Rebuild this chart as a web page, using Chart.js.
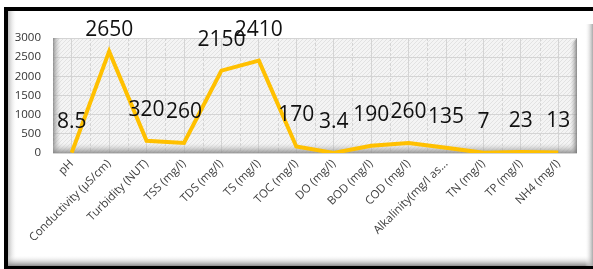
<!DOCTYPE html>
<html>
<head>
<meta charset="utf-8">
<script src="https://cdn.jsdelivr.net/npm/chart.js@4.4.0/dist/chart.umd.min.js"></script>
<style>
    html, body { margin: 0; padding: 0; background: #fff; }
    canvas { display: block; }
</style>
</head>
<body>
<canvas id="waterChart" width="593" height="269"></canvas>
<script>
const parameters = [
    "pH", "Conductivity (µS/cm)", "Turbidity (NUT)", "TSS (mg/l)", "TDS (mg/l)",
    "TS (mg/l)", "TOC (mg/l)", "DO (mg/l)", "BOD (mg/l)", "COD (mg/l)",
    "Alkalinity(mg/l as...", "TN (mg/l)", "TP (mg/l)", "NH4 (mg/l)"
];
const values = [8.5, 2650, 320, 260, 2150, 2410, 170, 3.4, 190, 260, 135, 7, 23, 13];
const yTicks = [0, 500, 1000, 1500, 2000, 2500, 3000];

// frame + hatched wall behind the grid
const backdrop = {
    id: "backdrop",
    beforeDraw(chart) {
        const ctx = chart.ctx;
        const w = chart.width, h = chart.height;
        ctx.save();
        ctx.fillStyle = "#000";
        ctx.fillRect(4, 7, w - 4, h - 7);
        ctx.fillStyle = "#fff";
        ctx.fillRect(8, 11, w - 8, 255);

        let g = ctx.createLinearGradient(8, 0, 17, 0);
        g.addColorStop(0, "#bdbdbd");
        g.addColorStop(1, "rgba(255,255,255,0)");
        ctx.fillStyle = g;
        ctx.fillRect(8, 11, 9, 255);

        g = ctx.createLinearGradient(0, 266, 0, 255);
        g.addColorStop(0, "#8c8c8c");
        g.addColorStop(1, "rgba(255,255,255,0)");
        ctx.fillStyle = g;
        ctx.fillRect(8, 255, w - 8, 11);

        g = ctx.createLinearGradient(w, 0, w - 8, 0);
        g.addColorStop(0, "#a8a8a8");
        g.addColorStop(1, "rgba(255,255,255,0)");
        ctx.fillStyle = g;
        ctx.fillRect(w - 8, 24, 8, 242);

        const a = chart.chartArea;
        ctx.fillStyle = "#f4f4f4";
        ctx.fillRect(a.left, a.top, a.right - a.left, a.bottom - a.top);
        ctx.beginPath();
        ctx.rect(a.left, a.top, a.right - a.left, a.bottom - a.top);
        ctx.clip();
        ctx.strokeStyle = "#e2e2e2";
        ctx.lineWidth = 1;
        for (let x = a.left - 200; x < a.right + 200; x += 4) {
            ctx.beginPath();
            ctx.moveTo(x, a.bottom);
            ctx.lineTo(x + (a.bottom - a.top), a.top);
            ctx.stroke();
        }
        // extra vertical lines halfway between categories
        const xs = chart.scales.x;
        ctx.strokeStyle = "#d4d4d4";
        ctx.setLineDash([3, 2]);
        for (let i = 0; i <= parameters.length; i++) {
            const px = Math.round(xs.getPixelForValue(i) - (xs.getPixelForValue(1) - xs.getPixelForValue(0)) / 2) + 0.5;
            ctx.beginPath();
            ctx.moveTo(px, a.top);
            ctx.lineTo(px, a.bottom);
            ctx.stroke();
        }
        ctx.restore();
    },
    beforeDatasetsDraw(chart) {
        const ctx = chart.ctx;
        const a = chart.chartArea;
        ctx.save();
        let g = ctx.createLinearGradient(a.left, 0, a.left + 8, 0);
        g.addColorStop(0, "rgba(120,120,120,0.75)");
        g.addColorStop(1, "rgba(200,200,200,0)");
        ctx.fillStyle = g;
        ctx.fillRect(a.left, a.top, 8, a.bottom - a.top);

        g = ctx.createLinearGradient(0, a.bottom, 0, a.bottom - 10);
        g.addColorStop(0, "rgba(130,130,130,0.8)");
        g.addColorStop(1, "rgba(210,210,210,0)");
        ctx.fillStyle = g;
        ctx.fillRect(a.left, a.bottom - 10, a.right - a.left, 10);

        g = ctx.createLinearGradient(a.right, 0, a.right - 7, 0);
        g.addColorStop(0, "rgba(110,110,110,0.8)");
        g.addColorStop(1, "rgba(200,200,200,0)");
        ctx.fillStyle = g;
        ctx.beginPath();
        ctx.moveTo(a.right, a.top);
        ctx.lineTo(a.right, a.bottom);
        ctx.lineTo(a.right - 7, a.bottom);
        ctx.lineTo(a.right - 7, a.top + 7);
        ctx.closePath();
        ctx.fill();
        ctx.restore();
    }
};

// value labels above each point
const valueLabels = {
    id: "valueLabels",
    afterDatasetsDraw(chart) {
        const ctx = chart.ctx;
        const meta = chart.getDatasetMeta(0);
        ctx.save();
        ctx.font = '21px "Open Sans"';
        ctx.fillStyle = "#111";
        ctx.textAlign = "center";
        ctx.textBaseline = "middle";
        meta.data.forEach((pt, i) => {
            const y = Math.max(pt.y - 31, 30);
            ctx.fillText(String(values[i]), pt.x, y);
        });
        ctx.restore();
    }
};

new Chart(document.getElementById("waterChart"), {
    type: "line",
    data: {
        labels: parameters,
        datasets: [
            {
                data: values,
                borderColor: "#FFC000",
                borderWidth: 4,
                pointRadius: 0,
                tension: 0,
                fill: false,
            },
        ],
    },
    options: {
        responsive: false,
        animation: false,
        layout: { padding: { left: 0, top: 38, right: 16, bottom: 0 } },
        plugins: {
            legend: { display: false },
            tooltip: { enabled: false },
        },
        scales: {
            x: {
                offset: true,
                afterFit: (s) => { s.height = 116; },
                grid: { color: "#d4d4d4", drawTicks: false },
                border: { display: false },
                ticks: {
                    autoSkip: false,
                    maxRotation: 45,
                    minRotation: 45,
                    padding: 4,
                    color: "#404040",
                    font: { family: "Open Sans", size: 11.5 },
                },
            },
            y: {
                min: 0,
                max: 3000,
                afterFit: (s) => { s.width = 53; },
                afterBuildTicks: (s) => { s.ticks = yTicks.map((v) => ({ value: v })); },
                grid: { color: "#d4d4d4", drawTicks: false },
                border: { display: false },
                ticks: {
                    padding: 12,
                    color: "#333",
                    font: { family: "Open Sans", size: 11.5 },
                    callback: (v) => String(v),
                },
            },
        },
    },
    plugins: [backdrop, valueLabels],
});
</script>
</body>
</html>
